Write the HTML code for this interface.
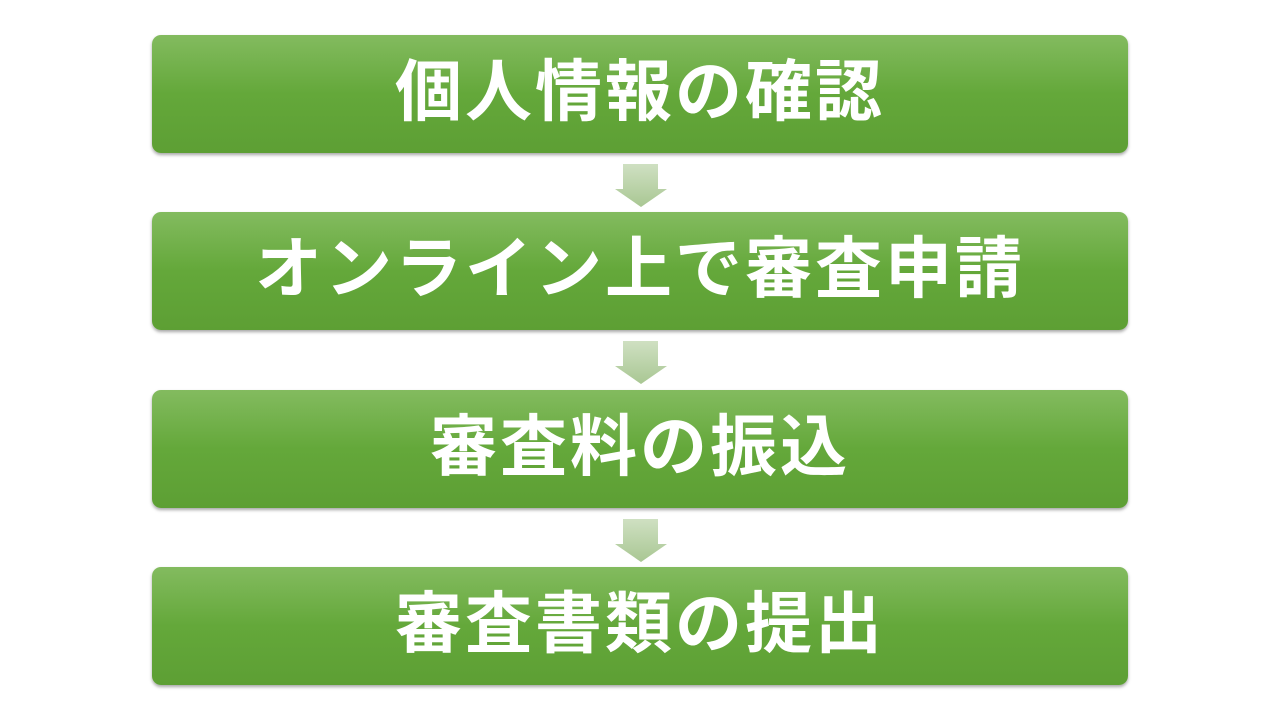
<!DOCTYPE html>
<html><head><meta charset="utf-8"><style>
body{margin:0;width:1280px;height:720px;background:#fff;position:relative;overflow:hidden;font-family:"Liberation Sans","Noto Sans CJK JP",sans-serif}
.b{position:absolute;left:152px;width:976px;height:118px;border-radius:9px;background:linear-gradient(#83bb5f,#64a83a 50%,#5d9f34);box-shadow:0 2px 3px rgba(0,0,0,.35);color:#fff;font-weight:bold;font-size:67px;display:flex;align-items:center;justify-content:center;letter-spacing:3px;box-sizing:border-box;padding-bottom:15px}
svg{position:absolute;left:612px}
</style></head><body>
<div class="b" style="top:35px">個人情報の確認</div>
<div class="b" style="top:212px">オンライン上で審査申請</div>
<div class="b" style="top:390px">審査料の振込</div>
<div class="b" style="top:567px">審査書類の提出</div>
<svg style="top:162px" width="58" height="48"><defs><linearGradient id="g" x1="0" y1="0" x2="0" y2="1"><stop offset="0" stop-color="#cfe0c2"/><stop offset="1" stop-color="#a9c793"/></linearGradient></defs><path d="M11 2H46V27H55L29 45L3 27H11Z" fill="url(#g)"/></svg>
<svg style="top:339px" width="58" height="48"><path d="M11 2H46V27H55L29 45L3 27H11Z" fill="url(#g)"/></svg>
<svg style="top:517px" width="58" height="48"><path d="M11 2H46V27H55L29 45L3 27H11Z" fill="url(#g)"/></svg>
</body></html>
